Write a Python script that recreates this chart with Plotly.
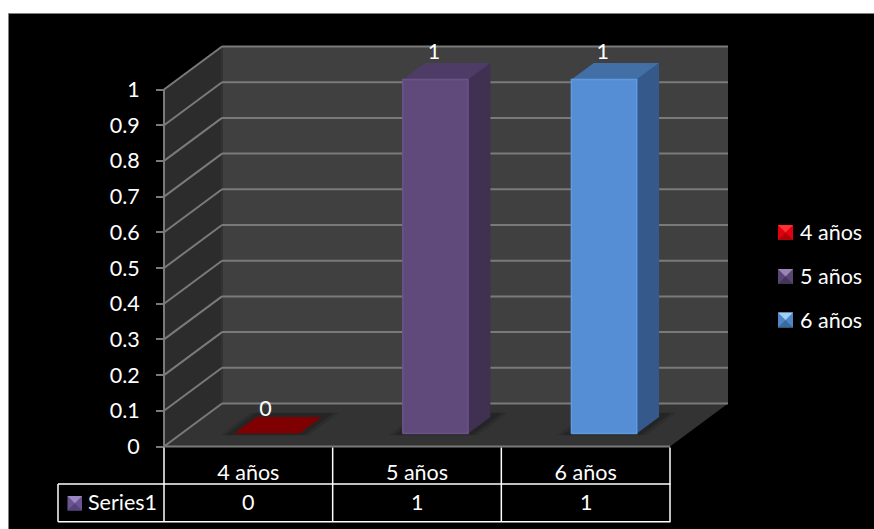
import plotly.graph_objects as go

# Chart content
categories = ["4 años", "5 años", "6 años"]
values = [0, 1, 1]
series_name = "Series1"
y_ticks = [0, 0.1, 0.2, 0.3, 0.4, 0.5, 0.6, 0.7, 0.8, 0.9, 1]
y_tick_labels = ["0", "0.1", "0.2", "0.3", "0.4", "0.5", "0.6", "0.7", "0.8", "0.9", "1"]

# Colours: front, side, top, edge highlight
bar_front = ["#7f0000", "#604a7b", "#558ed5"]
bar_side = ["#5a0000", "#403152", "#34598a"]
bar_top = ["#7f0000", "#4e3b66", "#426fa6"]
bar_edge = ["#7f0000", "#6b5389", "#5f9be0"]
swatch = ["#e0000f", "#5a4674", "#4f86c6"]
swatch_light = ["#ff3030", "#9a85b8", "#a0d0f5"]
swatch_dark = ["#b00008", "#453558", "#3c6a9e"]
FONT = "Lato"
FONT_SIZE = 21.5

W, H = 874, 529
# pixel box of the front floor edge and the front of the value axis
LEFT, RIGHT, BASE, TOP = 164.0, 670.0, 446.5, 89.5
CAT_PX = (RIGHT - LEFT) / 3
VAL_PX = BASE - TOP
# oblique offset of the back wall, in data units
DX = 58.0 / CAT_PX
DY = 43.0 / VAL_PX
BAR_D0, BAR_D1 = 0.30, 0.685
BAR_W = 0.387
BAR_SHIFT = 0.006
# rounded bevel takes a sliver off the top of a standing bar
BEVEL = 0.008
GRID = "#7a7a7a"


def proj(x, y, d):
    """Oblique projection of (category position, value, depth 0..1) to axis coords."""
    return x + DX * d, y + DY * d


def poly(points, fill, line=None, width=0):
    xs, ys = zip(*[proj(*p) for p in points])
    return go.Scatter(
        x=list(xs) + [xs[0]], y=list(ys) + [ys[0]], mode="lines", fill="toself",
        fillcolor=fill, line=dict(color=line or fill, width=width),
        hoverinfo="skip", showlegend=False,
    )


def seg(p, q, color=GRID, width=2):
    xs, ys = zip(proj(*p), proj(*q))
    return go.Scatter(x=list(xs), y=list(ys), mode="lines", line=dict(color=color, width=width),
                      hoverinfo="skip", showlegend=False)


n = len(categories)
traces = []
# walls and floor
traces.append(poly([(0, 0, 0), (0, 1, 0), (0, 1, 1), (0, 0, 1)], "#2c2c2c"))
traces.append(poly([(0, 0, 1), (0, 1, 1), (n, 1, 1), (n, 0, 1)], "#404040"))
traces.append(poly([(0, 0, 0), (n, 0, 0), (n, 0, 1), (0, 0, 1)], "#333333"))
traces.append(seg((0, 0, 1), (0, 1, 1), "#333333", 2))
# gridlines along the side wall, back wall
for t in y_ticks:
    traces.append(seg((0, t, 0), (0, t, 1)))
    traces.append(seg((0, t, 1), (n, t, 1)))
# front edges of the value axis and floor
traces.append(seg((0, 0, 0), (0, 1, 0)))
traces.append(seg((0, 0, 0), (n, 0, 0)))

# bars
for i, v in enumerate(values):
    x0 = i + 0.5 + BAR_SHIFT - BAR_W / 2
    x1 = i + 0.5 + BAR_SHIFT + BAR_W / 2
    h = max(v - BEVEL, 0)
    # soft contact shadow on the floor
    for grow, alpha in ((0.07, 0.10), (0.04, 0.16)):
        traces.append(poly([(x0 - grow, 0, BAR_D0 - 0.04), (x1 + grow, 0, BAR_D0 - 0.04),
                            (x1 + grow, 0, BAR_D1 + 0.1), (x0 - grow, 0, BAR_D1 + 0.1)],
                           f"rgba(0,0,0,{alpha})"))
    if v > 0:
        traces.append(poly([(x1, 0, BAR_D0), (x1, h, BAR_D0), (x1, h, BAR_D1), (x1, 0, BAR_D1)], bar_side[i]))
    traces.append(poly([(x0, h, BAR_D0), (x1, h, BAR_D0), (x1, h, BAR_D1), (x0, h, BAR_D1)], bar_top[i]))
    if v > 0:
        traces.append(poly([(x0, 0, BAR_D0), (x1, 0, BAR_D0), (x1, h, BAR_D0), (x0, h, BAR_D0)],
                           bar_front[i], bar_edge[i], 1.5))

# value labels above each bar
label_x = [i + 0.5 + DX * 0.295 for i in range(n)]
label_y = [v + DY * 0.83 for v in values]
traces.append(go.Scatter(
    x=label_x, y=label_y, mode="text", text=[str(v) for v in values],
    textposition="middle center", textfont=dict(family=FONT, size=FONT_SIZE, color="#ffffff"),
    hoverinfo="skip", showlegend=False,
))

fig = go.Figure(traces)


def px(x):
    return x / W


def py(y):
    return 1 - y / H


shapes = [dict(type="rect", xref="paper", yref="paper", x0=px(8.5), x1=px(875), y0=py(13.5), y1=py(530),
               fillcolor="#000000", line=dict(color="#7f7f7f", width=1), layer="below")]

# data table rules
table_color = "#ffffff"
for i in range(n + 1):
    shapes.append(dict(type="line", xref="x", yref="paper", x0=i, x1=i, y0=py(447.5), y1=py(521.7),
                       line=dict(color=table_color, width=1.5)))
for yy in (484, 521.7):
    shapes.append(dict(type="line", xref="paper", yref="paper", x0=px(58), x1=px(RIGHT + 0.5),
                       y0=py(yy), y1=py(yy), line=dict(color=table_color, width=1.5)))
shapes.append(dict(type="line", xref="paper", yref="paper", x0=px(58), x1=px(58), y0=py(484), y1=py(521.7),
                   line=dict(color=table_color, width=1.5)))


def bevel_swatch(x0, y0, s, base, light, dark):
    """Small bevelled legend key with its top bright and its bottom dark."""
    out = [dict(type="rect", xref="paper", yref="paper", x0=px(x0), x1=px(x0 + s), y0=py(y0), y1=py(y0 + s),
                fillcolor=base, line=dict(width=0))]
    out.append(dict(type="path", xref="paper", yref="paper",
                    path=f"M {px(x0)} {py(y0)} L {px(x0 + s)} {py(y0)} L {px(x0 + s / 2)} {py(y0 + s / 2)} Z",
                    fillcolor=light, line=dict(width=0)))
    out.append(dict(type="path", xref="paper", yref="paper",
                    path=f"M {px(x0)} {py(y0 + s)} L {px(x0 + s)} {py(y0 + s)} L {px(x0 + s / 2)} {py(y0 + s / 2)} Z",
                    fillcolor=dark, line=dict(width=0)))
    return out


annotations = []
legend_y = [232, 276, 319.5]
for i, name in enumerate(categories):
    shapes += bevel_swatch(778, legend_y[i] - 7, 15, swatch[i], swatch_light[i], swatch_dark[i])
    annotations.append(dict(xref="paper", yref="paper", x=px(798), y=py(legend_y[i]), text=name, showarrow=False,
                            xanchor="left", yanchor="middle", font=dict(family=FONT, size=FONT_SIZE, color="#ffffff")))
    # data table values
    annotations.append(dict(xref="x", yref="paper", x=i + 0.5, y=py(501.5), text=str(values[i]), showarrow=False,
                            xanchor="center", yanchor="middle", font=dict(family=FONT, size=FONT_SIZE, color="#ffffff")))

shapes += bevel_swatch(67.5, 496, 14.5, "#6a5590", "#9c88c0", "#54427a")
annotations.append(dict(xref="paper", yref="paper", x=px(85.5), y=py(501.5), text=series_name, showarrow=False,
                        xanchor="left", yanchor="middle", font=dict(family=FONT, size=FONT_SIZE, color="#ffffff")))

# the axes fill the page so the receding walls are not clipped; their labels sit at the front corner
fig.update_layout(
    width=W, height=H, autosize=False, margin=dict(l=0, r=0, t=0, b=0, pad=0),
    paper_bgcolor="#ffffff", plot_bgcolor="rgba(0,0,0,0)", showlegend=False,
    shapes=shapes, annotations=annotations,
    font=dict(family=FONT, size=FONT_SIZE, color="#ffffff"),
    xaxis=dict(range=[-LEFT / CAT_PX, (W - LEFT) / CAT_PX], anchor="free", position=py(BASE),
               showgrid=False, zeroline=False, automargin=False,
               tickvals=[i + 0.5 for i in range(n)], ticktext=categories, ticks="",
               showline=False, ticklabelstandoff=11,
               tickfont=dict(family=FONT, size=FONT_SIZE, color="#ffffff"), fixedrange=True),
    yaxis=dict(range=[-(H - BASE) / VAL_PX, BASE / VAL_PX], anchor="free", position=px(LEFT),
               showgrid=False, zeroline=False, automargin=False,
               tickvals=y_ticks, ticktext=y_tick_labels, ticks="outside", ticklen=8, tickwidth=1.5,
               tickcolor=GRID, showline=False, ticklabelstandoff=12,
               tickfont=dict(family=FONT, size=FONT_SIZE, color="#ffffff"), fixedrange=True),
)

fig.write_html("out.html")
